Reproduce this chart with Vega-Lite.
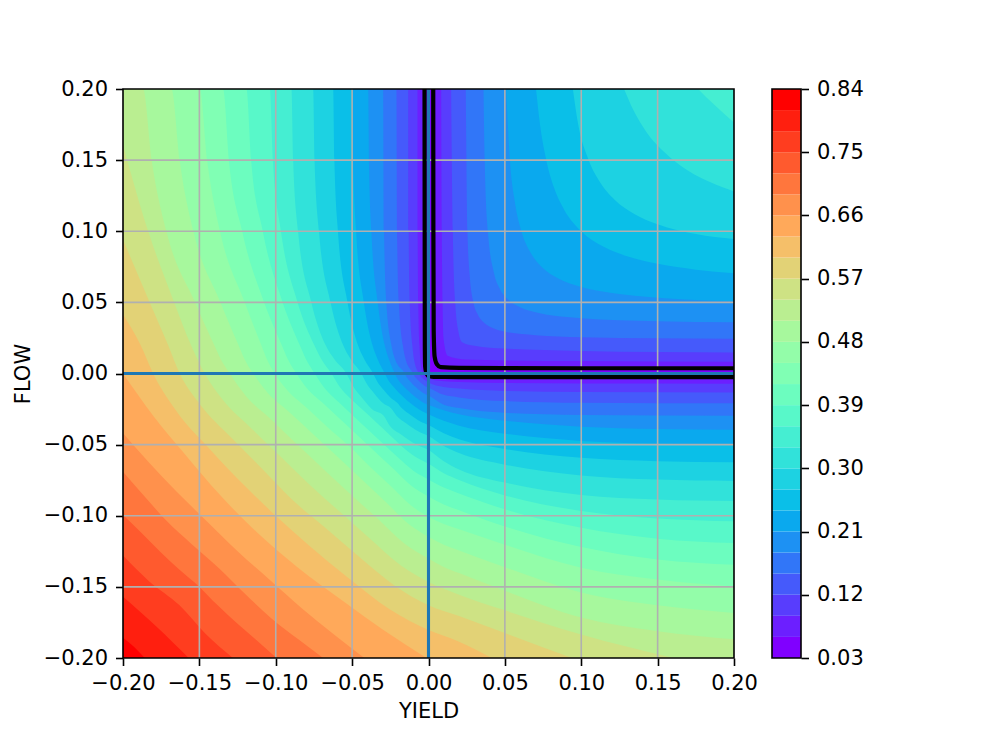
{"$schema":"https://vega.github.io/schema/vega-lite/v6.json","padding":{"left":12,"top":78,"right":5,"bottom":5},"background":"white","bounds":"flush","spacing":38,
"config":{"view":{"stroke":null},"font":"DejaVu Sans","axis":{"labelFont":"DejaVu Sans","titleFont":"DejaVu Sans","labelFontSize":21,"titleFontSize":21,"titleFontWeight":"normal","labelColor":"black","titleColor":"black","tickColor":"black","tickWidth":1.6,"tickSize":7.5,"domain":false,"grid":false,"labelOverlap":false,"labelFlush":false,"labelPadding":7}},
"datasets":{
"lower":[
{"k":0,"x":-0.2,"y":0.2},{"k":0,"x":0.2,"y":0.2},
{"k":1,"x":-0.2,"y":0.2},{"k":1,"x":-0.0026,"y":0.2},{"k":1,"x":-0.0025,"y":0.1},{"k":1,"x":-0.0024,"y":0.02},{"k":1,"x":-0.0022,"y":0.005},{"k":1,"x":-0.0016,"y":0.0012},{"k":1,"x":0,"y":-0.0017},{"k":1,"x":0.002,"y":-0.0022},{"k":1,"x":0.005,"y":-0.0024},{"k":1,"x":0.02,"y":-0.0025},{"k":1,"x":0.1,"y":-0.0025},{"k":1,"x":0.2,"y":-0.0026},
{"k":2,"x":-0.2,"y":0.2},{"k":2,"x":-0.0072,"y":0.2},{"k":2,"x":-0.0071,"y":0.1},{"k":2,"x":-0.0067,"y":0.05},{"k":2,"x":-0.0059,"y":0.02},{"k":2,"x":-0.0054,"y":0.01},{"k":2,"x":-0.0039,"y":0},{"k":2,"x":-0.0031,"y":-0.0013},{"k":2,"x":-0.0022,"y":-0.0022},{"k":2,"x":-0.0013,"y":-0.0031},{"k":2,"x":0,"y":-0.0039},{"k":2,"x":0.01,"y":-0.0054},{"k":2,"x":0.02,"y":-0.0059},{"k":2,"x":0.05,"y":-0.0067},{"k":2,"x":0.1,"y":-0.0071},{"k":2,"x":0.2,"y":-0.0072},
{"k":3,"x":-0.2,"y":0.2},{"k":3,"x":-0.0133,"y":0.2},{"k":3,"x":-0.013,"y":0.1},{"k":3,"x":-0.0123,"y":0.05},{"k":3,"x":-0.0106,"y":0.02},{"k":3,"x":-0.0095,"y":0.01},{"k":3,"x":-0.0063,"y":0},{"k":3,"x":-0.005,"y":-0.0021},{"k":3,"x":-0.0036,"y":-0.0036},{"k":3,"x":-0.0021,"y":-0.005},{"k":3,"x":0,"y":-0.0063},{"k":3,"x":0.01,"y":-0.0095},{"k":3,"x":0.02,"y":-0.0106},{"k":3,"x":0.05,"y":-0.0123},{"k":3,"x":0.1,"y":-0.013},{"k":3,"x":0.2,"y":-0.0133},
{"k":4,"x":-0.2,"y":0.2},{"k":4,"x":-0.021,"y":0.2},{"k":4,"x":-0.0206,"y":0.1},{"k":4,"x":-0.0194,"y":0.05},{"k":4,"x":-0.0168,"y":0.02},{"k":4,"x":-0.015,"y":0.01},{"k":4,"x":-0.01,"y":0},{"k":4,"x":-0.0093,"y":-0.0015},{"k":4,"x":-0.008,"y":-0.0033},{"k":4,"x":-0.0068,"y":-0.0047},{"k":4,"x":-0.0058,"y":-0.0058},{"k":4,"x":-0.0047,"y":-0.0068},{"k":4,"x":-0.0033,"y":-0.008},{"k":4,"x":-0.0015,"y":-0.0093},{"k":4,"x":0,"y":-0.01},{"k":4,"x":0.01,"y":-0.015},{"k":4,"x":0.02,"y":-0.0168},{"k":4,"x":0.05,"y":-0.0194},{"k":4,"x":0.1,"y":-0.0206},{"k":4,"x":0.2,"y":-0.021},
{"k":5,"x":-0.2,"y":0.2},{"k":5,"x":-0.0297,"y":0.2},{"k":5,"x":-0.0291,"y":0.1},{"k":5,"x":-0.0276,"y":0.05},{"k":5,"x":-0.0243,"y":0.02},{"k":5,"x":-0.0219,"y":0.01},{"k":5,"x":-0.0155,"y":0},{"k":5,"x":-0.0144,"y":-0.0023},{"k":5,"x":-0.0124,"y":-0.0051},{"k":5,"x":-0.0105,"y":-0.0073},{"k":5,"x":-0.009,"y":-0.009},{"k":5,"x":-0.0073,"y":-0.0105},{"k":5,"x":-0.0051,"y":-0.0124},{"k":5,"x":-0.0023,"y":-0.0144},{"k":5,"x":0,"y":-0.0155},{"k":5,"x":0.01,"y":-0.0219},{"k":5,"x":0.02,"y":-0.0243},{"k":5,"x":0.05,"y":-0.0276},{"k":5,"x":0.1,"y":-0.0291},{"k":5,"x":0.2,"y":-0.0297},
{"k":6,"x":-0.2,"y":0.2},{"k":6,"x":-0.0395,"y":0.2},{"k":6,"x":-0.039,"y":0.15},{"k":6,"x":-0.0374,"y":0.1},{"k":6,"x":-0.0332,"y":0.05},{"k":6,"x":-0.0287,"y":0.02},{"k":6,"x":-0.0259,"y":0.01},{"k":6,"x":-0.022,"y":0},{"k":6,"x":-0.0205,"y":-0.0033},{"k":6,"x":-0.0176,"y":-0.0073},{"k":6,"x":-0.015,"y":-0.0104},{"k":6,"x":-0.0127,"y":-0.0127},{"k":6,"x":-0.0104,"y":-0.015},{"k":6,"x":-0.0073,"y":-0.0176},{"k":6,"x":-0.0033,"y":-0.0205},{"k":6,"x":0,"y":-0.022},{"k":6,"x":0.01,"y":-0.0259},{"k":6,"x":0.02,"y":-0.0287},{"k":6,"x":0.05,"y":-0.0332},{"k":6,"x":0.1,"y":-0.0374},{"k":6,"x":0.15,"y":-0.039},{"k":6,"x":0.2,"y":-0.0395},
{"k":7,"x":-0.2,"y":0.2},{"k":7,"x":-0.05,"y":0.2},{"k":7,"x":-0.0494,"y":0.15},{"k":7,"x":-0.0474,"y":0.1},{"k":7,"x":-0.0423,"y":0.05},{"k":7,"x":-0.0367,"y":0.02},{"k":7,"x":-0.0333,"y":0.01},{"k":7,"x":-0.0286,"y":0},{"k":7,"x":-0.0266,"y":-0.0042},{"k":7,"x":-0.0229,"y":-0.0094},{"k":7,"x":-0.0194,"y":-0.0136},{"k":7,"x":-0.0165,"y":-0.0165},{"k":7,"x":-0.0136,"y":-0.0194},{"k":7,"x":-0.0094,"y":-0.0229},{"k":7,"x":-0.0042,"y":-0.0266},{"k":7,"x":0,"y":-0.0286},{"k":7,"x":0.01,"y":-0.0333},{"k":7,"x":0.02,"y":-0.0367},{"k":7,"x":0.05,"y":-0.0423},{"k":7,"x":0.1,"y":-0.0474},{"k":7,"x":0.15,"y":-0.0494},{"k":7,"x":0.2,"y":-0.05},
{"k":8,"x":-0.2,"y":0.2},{"k":8,"x":-0.0624,"y":0.2},{"k":8,"x":-0.0616,"y":0.15},{"k":8,"x":-0.0593,"y":0.1},{"k":8,"x":-0.053,"y":0.05},{"k":8,"x":-0.0462,"y":0.02},{"k":8,"x":-0.042,"y":0.01},{"k":8,"x":-0.0362,"y":0},{"k":8,"x":-0.0337,"y":-0.0054},{"k":8,"x":-0.029,"y":-0.0119},{"k":8,"x":-0.0246,"y":-0.0172},{"k":8,"x":-0.0205,"y":-0.0205},{"k":8,"x":-0.0172,"y":-0.0246},{"k":8,"x":-0.0119,"y":-0.029},{"k":8,"x":-0.0054,"y":-0.0337},{"k":8,"x":0,"y":-0.0362},{"k":8,"x":0.01,"y":-0.042},{"k":8,"x":0.02,"y":-0.0462},{"k":8,"x":0.05,"y":-0.053},{"k":8,"x":0.1,"y":-0.0593},{"k":8,"x":0.15,"y":-0.0616},{"k":8,"x":0.2,"y":-0.0624},
{"k":9,"x":-0.2,"y":0.2},{"k":9,"x":-0.0755,"y":0.2},{"k":9,"x":-0.0746,"y":0.15},{"k":9,"x":-0.0717,"y":0.1},{"k":9,"x":-0.0641,"y":0.05},{"k":9,"x":-0.0559,"y":0.02},{"k":9,"x":-0.0509,"y":0.01},{"k":9,"x":-0.0439,"y":0},{"k":9,"x":-0.0408,"y":-0.0065},{"k":9,"x":-0.0351,"y":-0.0145},{"k":9,"x":-0.0299,"y":-0.0208},{"k":9,"x":-0.0245,"y":-0.0245},{"k":9,"x":-0.0208,"y":-0.0299},{"k":9,"x":-0.0145,"y":-0.0351},{"k":9,"x":-0.0065,"y":-0.0408},{"k":9,"x":0,"y":-0.0439},{"k":9,"x":0.01,"y":-0.0509},{"k":9,"x":0.02,"y":-0.0559},{"k":9,"x":0.05,"y":-0.0641},{"k":9,"x":0.1,"y":-0.0717},{"k":9,"x":0.15,"y":-0.0746},{"k":9,"x":0.2,"y":-0.0755},
{"k":10,"x":-0.2,"y":0.2},{"k":10,"x":-0.0897,"y":0.2},{"k":10,"x":-0.0886,"y":0.15},{"k":10,"x":-0.0854,"y":0.1},{"k":10,"x":-0.0767,"y":0.05},{"k":10,"x":-0.0674,"y":0.02},{"k":10,"x":-0.0616,"y":0.01},{"k":10,"x":-0.0537,"y":0},{"k":10,"x":-0.0499,"y":-0.0079},{"k":10,"x":-0.043,"y":-0.0177},{"k":10,"x":-0.0365,"y":-0.0255},{"k":10,"x":-0.0295,"y":-0.0295},{"k":10,"x":-0.0255,"y":-0.0365},{"k":10,"x":-0.0177,"y":-0.043},{"k":10,"x":-0.0079,"y":-0.0499},{"k":10,"x":0,"y":-0.0537},{"k":10,"x":0.01,"y":-0.0616},{"k":10,"x":0.02,"y":-0.0674},{"k":10,"x":0.05,"y":-0.0767},{"k":10,"x":0.1,"y":-0.0854},{"k":10,"x":0.15,"y":-0.0886},{"k":10,"x":0.2,"y":-0.0897},
{"k":11,"x":-0.2,"y":0.2},{"k":11,"x":-0.1039,"y":0.2},{"k":11,"x":-0.1019,"y":0.15},{"k":11,"x":-0.0966,"y":0.1},{"k":11,"x":-0.0857,"y":0.05},{"k":11,"x":-0.0748,"y":0.02},{"k":11,"x":-0.0701,"y":0.01},{"k":11,"x":-0.0635,"y":0},{"k":11,"x":-0.0584,"y":-0.0089},{"k":11,"x":-0.0502,"y":-0.0184},{"k":11,"x":-0.0422,"y":-0.0264},{"k":11,"x":-0.0343,"y":-0.0343},{"k":11,"x":-0.0264,"y":-0.0422},{"k":11,"x":-0.0184,"y":-0.0502},{"k":11,"x":-0.0089,"y":-0.0584},{"k":11,"x":0,"y":-0.0635},{"k":11,"x":0.01,"y":-0.0701},{"k":11,"x":0.02,"y":-0.0748},{"k":11,"x":0.05,"y":-0.0857},{"k":11,"x":0.1,"y":-0.0966},{"k":11,"x":0.15,"y":-0.1019},{"k":11,"x":0.2,"y":-0.1039},
{"k":12,"x":-0.2,"y":0.2},{"k":12,"x":-0.1192,"y":0.2},{"k":12,"x":-0.1161,"y":0.15},{"k":12,"x":-0.1085,"y":0.1},{"k":12,"x":-0.0955,"y":0.05},{"k":12,"x":-0.0843,"y":0.02},{"k":12,"x":-0.0802,"y":0.01},{"k":12,"x":-0.0745,"y":0},{"k":12,"x":-0.0685,"y":-0.0097},{"k":12,"x":-0.0589,"y":-0.0201},{"k":12,"x":-0.0492,"y":-0.0298},{"k":12,"x":-0.0395,"y":-0.0395},{"k":12,"x":-0.0298,"y":-0.0492},{"k":12,"x":-0.0201,"y":-0.0589},{"k":12,"x":-0.0097,"y":-0.0685},{"k":12,"x":0,"y":-0.0745},{"k":12,"x":0.01,"y":-0.0802},{"k":12,"x":0.02,"y":-0.0843},{"k":12,"x":0.05,"y":-0.0955},{"k":12,"x":0.1,"y":-0.1085},{"k":12,"x":0.15,"y":-0.1161},{"k":12,"x":0.2,"y":-0.1192},
{"k":13,"x":-0.2,"y":0.2},{"k":13,"x":-0.1345,"y":0.2},{"k":13,"x":-0.1307,"y":0.15},{"k":13,"x":-0.122,"y":0.1},{"k":13,"x":-0.1076,"y":0.05},{"k":13,"x":-0.0961,"y":0.02},{"k":13,"x":-0.0921,"y":0.01},{"k":13,"x":-0.0865,"y":0},{"k":13,"x":-0.0796,"y":-0.0104},{"k":13,"x":-0.0683,"y":-0.0216},{"k":13,"x":-0.0567,"y":-0.0333},{"k":13,"x":-0.045,"y":-0.045},{"k":13,"x":-0.0333,"y":-0.0567},{"k":13,"x":-0.0216,"y":-0.0683},{"k":13,"x":-0.0104,"y":-0.0796},{"k":13,"x":0,"y":-0.0865},{"k":13,"x":0.01,"y":-0.0921},{"k":13,"x":0.02,"y":-0.0961},{"k":13,"x":0.05,"y":-0.1076},{"k":13,"x":0.1,"y":-0.122},{"k":13,"x":0.15,"y":-0.1307},{"k":13,"x":0.2,"y":-0.1345},
{"k":14,"x":-0.2,"y":0.2},{"k":14,"x":-0.1498,"y":0.2},{"k":14,"x":-0.1449,"y":0.15},{"k":14,"x":-0.1365,"y":0.1},{"k":14,"x":-0.1203,"y":0.05},{"k":14,"x":-0.1095,"y":0.02},{"k":14,"x":-0.1058,"y":0.01},{"k":14,"x":-0.1007,"y":0},{"k":14,"x":-0.0926,"y":-0.0116},{"k":14,"x":-0.0796,"y":-0.0242},{"k":14,"x":-0.0655,"y":-0.0383},{"k":14,"x":-0.0515,"y":-0.0515},{"k":14,"x":-0.0383,"y":-0.0655},{"k":14,"x":-0.0242,"y":-0.0796},{"k":14,"x":-0.0116,"y":-0.0926},{"k":14,"x":0,"y":-0.1007},{"k":14,"x":0.01,"y":-0.1058},{"k":14,"x":0.02,"y":-0.1095},{"k":14,"x":0.05,"y":-0.1203},{"k":14,"x":0.1,"y":-0.1365},{"k":14,"x":0.15,"y":-0.1449},{"k":14,"x":0.2,"y":-0.1498},
{"k":15,"x":-0.2,"y":0.2},{"k":15,"x":-0.1683,"y":0.2},{"k":15,"x":-0.1629,"y":0.15},{"k":15,"x":-0.1539,"y":0.1},{"k":15,"x":-0.1362,"y":0.05},{"k":15,"x":-0.1244,"y":0.02},{"k":15,"x":-0.1204,"y":0.01},{"k":15,"x":-0.1148,"y":0},{"k":15,"x":-0.1056,"y":-0.0132},{"k":15,"x":-0.0907,"y":-0.0276},{"k":15,"x":-0.0746,"y":-0.0436},{"k":15,"x":-0.059,"y":-0.059},{"k":15,"x":-0.0436,"y":-0.0746},{"k":15,"x":-0.0276,"y":-0.0907},{"k":15,"x":-0.0132,"y":-0.1056},{"k":15,"x":0,"y":-0.1148},{"k":15,"x":0.01,"y":-0.1204},{"k":15,"x":0.02,"y":-0.1244},{"k":15,"x":0.05,"y":-0.1362},{"k":15,"x":0.1,"y":-0.1539},{"k":15,"x":0.15,"y":-0.1629},{"k":15,"x":0.2,"y":-0.1683},
{"k":16,"x":-0.2,"y":0.2},{"k":16,"x":-0.1869,"y":0.2},{"k":16,"x":-0.1812,"y":0.15},{"k":16,"x":-0.1716,"y":0.1},{"k":16,"x":-0.1528,"y":0.05},{"k":16,"x":-0.1403,"y":0.02},{"k":16,"x":-0.136,"y":0.01},{"k":16,"x":-0.1301,"y":0},{"k":16,"x":-0.1197,"y":-0.0156},{"k":16,"x":-0.1028,"y":-0.0325},{"k":16,"x":-0.0852,"y":-0.0507},{"k":16,"x":-0.068,"y":-0.068},{"k":16,"x":-0.0507,"y":-0.0852},{"k":16,"x":-0.0325,"y":-0.1028},{"k":16,"x":-0.0156,"y":-0.1197},{"k":16,"x":0,"y":-0.1301},{"k":16,"x":0.01,"y":-0.136},{"k":16,"x":0.02,"y":-0.1403},{"k":16,"x":0.05,"y":-0.1528},{"k":16,"x":0.1,"y":-0.1716},{"k":16,"x":0.15,"y":-0.1812},{"k":16,"x":0.2,"y":-0.1869},
{"k":17,"x":-0.2,"y":0.1605},{"k":17,"x":-0.1835,"y":0.1},{"k":17,"x":-0.1665,"y":0.05},{"k":17,"x":-0.1555,"y":0.02},{"k":17,"x":-0.1465,"y":0},{"k":17,"x":-0.1348,"y":-0.0183},{"k":17,"x":-0.1157,"y":-0.0388},{"k":17,"x":-0.0967,"y":-0.0586},{"k":17,"x":-0.078,"y":-0.078},{"k":17,"x":-0.0586,"y":-0.0967},{"k":17,"x":-0.0388,"y":-0.1157},{"k":17,"x":-0.0183,"y":-0.1348},{"k":17,"x":0,"y":-0.1465},{"k":17,"x":0.02,"y":-0.1555},{"k":17,"x":0.05,"y":-0.1665},{"k":17,"x":0.1,"y":-0.1835},{"k":17,"x":0.1605,"y":-0.2},
{"k":18,"x":-0.2,"y":0.094},{"k":18,"x":-0.1825,"y":0.05},{"k":18,"x":-0.1705,"y":0.02},{"k":18,"x":-0.1629,"y":0},{"k":18,"x":-0.1499,"y":-0.0212},{"k":18,"x":-0.1287,"y":-0.0456},{"k":18,"x":-0.1091,"y":-0.0668},{"k":18,"x":-0.089,"y":-0.089},{"k":18,"x":-0.0668,"y":-0.1091},{"k":18,"x":-0.0456,"y":-0.1287},{"k":18,"x":-0.0212,"y":-0.1499},{"k":18,"x":0,"y":-0.1629},{"k":18,"x":0.02,"y":-0.1705},{"k":18,"x":0.05,"y":-0.1825},{"k":18,"x":0.094,"y":-0.2},
{"k":19,"x":-0.2,"y":0.0415},{"k":19,"x":-0.1885,"y":0.02},{"k":19,"x":-0.1803,"y":0},{"k":19,"x":-0.1659,"y":-0.0252},{"k":19,"x":-0.1424,"y":-0.0541},{"k":19,"x":-0.1208,"y":-0.0784},{"k":19,"x":-0.1,"y":-0.1},{"k":19,"x":-0.0784,"y":-0.1208},{"k":19,"x":-0.0541,"y":-0.1424},{"k":19,"x":-0.0252,"y":-0.1659},{"k":19,"x":0,"y":-0.1803},{"k":19,"x":0.02,"y":-0.1885},{"k":19,"x":0.0415,"y":-0.2},
{"k":20,"x":-0.2,"y":0},{"k":20,"x":-0.18,"y":-0.03},{"k":20,"x":-0.16,"y":-0.056},{"k":20,"x":-0.136,"y":-0.086},{"k":20,"x":-0.112,"y":-0.112},{"k":20,"x":-0.086,"y":-0.136},{"k":20,"x":-0.056,"y":-0.16},{"k":20,"x":-0.03,"y":-0.18},{"k":20,"x":-0.0013,"y":-0.2},
{"k":21,"x":-0.2,"y":-0.042},{"k":21,"x":-0.183,"y":-0.0625},{"k":21,"x":-0.165,"y":-0.083},{"k":21,"x":-0.145,"y":-0.104},{"k":21,"x":-0.125,"y":-0.125},{"k":21,"x":-0.104,"y":-0.145},{"k":21,"x":-0.083,"y":-0.165},{"k":21,"x":-0.0625,"y":-0.183},{"k":21,"x":-0.042,"y":-0.2},
{"k":22,"x":-0.2,"y":-0.069},{"k":22,"x":-0.187,"y":-0.085},{"k":22,"x":-0.172,"y":-0.103},{"k":22,"x":-0.155,"y":-0.12},{"k":22,"x":-0.137,"y":-0.137},{"k":22,"x":-0.12,"y":-0.155},{"k":22,"x":-0.103,"y":-0.172},{"k":22,"x":-0.085,"y":-0.187},{"k":22,"x":-0.069,"y":-0.2},
{"k":23,"x":-0.2,"y":-0.0995},{"k":23,"x":-0.188,"y":-0.112},{"k":23,"x":-0.176,"y":-0.125},{"k":23,"x":-0.163,"y":-0.138},{"k":23,"x":-0.15,"y":-0.15},{"k":23,"x":-0.138,"y":-0.163},{"k":23,"x":-0.125,"y":-0.176},{"k":23,"x":-0.112,"y":-0.188},{"k":23,"x":-0.0995,"y":-0.2},
{"k":24,"x":-0.2,"y":-0.128},{"k":24,"x":-0.183,"y":-0.146},{"k":24,"x":-0.163,"y":-0.163},{"k":24,"x":-0.146,"y":-0.183},{"k":24,"x":-0.128,"y":-0.2},
{"k":25,"x":-0.2,"y":-0.157},{"k":25,"x":-0.178,"y":-0.178},{"k":25,"x":-0.157,"y":-0.2},
{"k":26,"x":-0.2,"y":-0.1858},{"k":26,"x":-0.1925,"y":-0.1925},{"k":26,"x":-0.1858,"y":-0.2}
],
"upper":[
{"k":1,"x":0.0031,"y":0.2},{"k":1,"x":0.0032,"y":0.1},{"k":1,"x":0.0034,"y":0.03},{"k":1,"x":0.004,"y":0.012},{"k":1,"x":0.0055,"y":0.0065},{"k":1,"x":0.008,"y":0.0045},{"k":1,"x":0.02,"y":0.0039},{"k":1,"x":0.1,"y":0.0037},{"k":1,"x":0.2,"y":0.0037},
{"k":2,"x":0.0083,"y":0.2},{"k":2,"x":0.0087,"y":0.1},{"k":2,"x":0.0092,"y":0.05},{"k":2,"x":0.0098,"y":0.025},{"k":2,"x":0.0125,"y":0.0125},{"k":2,"x":0.025,"y":0.0098},{"k":2,"x":0.05,"y":0.0092},{"k":2,"x":0.1,"y":0.0087},{"k":2,"x":0.2,"y":0.0083},
{"k":3,"x":0.0148,"y":0.2},{"k":3,"x":0.0159,"y":0.1},{"k":3,"x":0.0175,"y":0.05},{"k":3,"x":0.0195,"y":0.03},{"k":3,"x":0.022,"y":0.022},{"k":3,"x":0.03,"y":0.0195},{"k":3,"x":0.05,"y":0.0175},{"k":3,"x":0.1,"y":0.0159},{"k":3,"x":0.2,"y":0.0148},
{"k":4,"x":0.0244,"y":0.2},{"k":4,"x":0.0255,"y":0.1},{"k":4,"x":0.0269,"y":0.07},{"k":4,"x":0.0294,"y":0.05},{"k":4,"x":0.032,"y":0.042},{"k":4,"x":0.036,"y":0.036},{"k":4,"x":0.042,"y":0.032},{"k":4,"x":0.05,"y":0.0294},{"k":4,"x":0.07,"y":0.0269},{"k":4,"x":0.1,"y":0.0255},{"k":4,"x":0.2,"y":0.0244},
{"k":5,"x":0.036,"y":0.2},{"k":5,"x":0.0368,"y":0.15},{"k":5,"x":0.0389,"y":0.1},{"k":5,"x":0.043,"y":0.07},{"k":5,"x":0.0465,"y":0.06},{"k":5,"x":0.052,"y":0.052},{"k":5,"x":0.06,"y":0.0465},{"k":5,"x":0.07,"y":0.043},{"k":5,"x":0.1,"y":0.0389},{"k":5,"x":0.15,"y":0.0368},{"k":5,"x":0.2,"y":0.036},
{"k":6,"x":0.0508,"y":0.2},{"k":6,"x":0.0533,"y":0.15},{"k":6,"x":0.0566,"y":0.12},{"k":6,"x":0.0608,"y":0.1},{"k":6,"x":0.0668,"y":0.085},{"k":6,"x":0.0745,"y":0.0745},{"k":6,"x":0.085,"y":0.0668},{"k":6,"x":0.1,"y":0.0608},{"k":6,"x":0.12,"y":0.0566},{"k":6,"x":0.15,"y":0.0533},{"k":6,"x":0.2,"y":0.0508},
{"k":7,"x":0.0704,"y":0.2},{"k":7,"x":0.073,"y":0.175},{"k":7,"x":0.0771,"y":0.15},{"k":7,"x":0.0824,"y":0.13},{"k":7,"x":0.0889,"y":0.115},{"k":7,"x":0.1,"y":0.1},{"k":7,"x":0.115,"y":0.0889},{"k":7,"x":0.13,"y":0.0824},{"k":7,"x":0.15,"y":0.0771},{"k":7,"x":0.175,"y":0.073},{"k":7,"x":0.2,"y":0.0704},
{"k":8,"x":0.0945,"y":0.2},{"k":8,"x":0.098,"y":0.175},{"k":8,"x":0.1049,"y":0.15},{"k":8,"x":0.112,"y":0.135},{"k":8,"x":0.122,"y":0.122},{"k":8,"x":0.135,"y":0.112},{"k":8,"x":0.15,"y":0.1049},{"k":8,"x":0.175,"y":0.098},{"k":8,"x":0.2,"y":0.0945},
{"k":9,"x":0.128,"y":0.2},{"k":9,"x":0.1342,"y":0.185},{"k":9,"x":0.1425,"y":0.17},{"k":9,"x":0.155,"y":0.155},{"k":9,"x":0.17,"y":0.1425},{"k":9,"x":0.185,"y":0.1342},{"k":9,"x":0.2,"y":0.128},
{"k":10,"x":0.1765,"y":0.2},{"k":10,"x":0.182,"y":0.194},{"k":10,"x":0.188,"y":0.188},{"k":10,"x":0.194,"y":0.182},{"k":10,"x":0.2,"y":0.1765}
],
"black":[
{"s":"a","x":-0.0026,"y":0.2},{"s":"a","x":-0.0025,"y":0.1},{"s":"a","x":-0.0024,"y":0.02},{"s":"a","x":-0.0022,"y":0.005},{"s":"a","x":-0.0016,"y":0.0012},{"s":"a","x":0,"y":-0.0017},{"s":"a","x":0.002,"y":-0.0022},{"s":"a","x":0.005,"y":-0.0024},{"s":"a","x":0.02,"y":-0.0025},{"s":"a","x":0.1,"y":-0.0025},{"s":"a","x":0.2,"y":-0.0026},
{"s":"b","x":0.0031,"y":0.2},{"s":"b","x":0.0032,"y":0.1},{"s":"b","x":0.0034,"y":0.03},{"s":"b","x":0.004,"y":0.012},{"s":"b","x":0.0055,"y":0.0065},{"s":"b","x":0.008,"y":0.0045},{"s":"b","x":0.02,"y":0.0039},{"s":"b","x":0.1,"y":0.0037},{"s":"b","x":0.2,"y":0.0037}
],
"bands":[
{"k":0,"lo":0.03,"hi":0.06},{"k":1,"lo":0.06,"hi":0.09},{"k":2,"lo":0.09,"hi":0.12},{"k":3,"lo":0.12,"hi":0.15},{"k":4,"lo":0.15,"hi":0.18},{"k":5,"lo":0.18,"hi":0.21},{"k":6,"lo":0.21,"hi":0.24},{"k":7,"lo":0.24,"hi":0.27},{"k":8,"lo":0.27,"hi":0.3},{"k":9,"lo":0.3,"hi":0.33},{"k":10,"lo":0.33,"hi":0.36},{"k":11,"lo":0.36,"hi":0.39},{"k":12,"lo":0.39,"hi":0.42},{"k":13,"lo":0.42,"hi":0.45},{"k":14,"lo":0.45,"hi":0.48},{"k":15,"lo":0.48,"hi":0.51},{"k":16,"lo":0.51,"hi":0.54},{"k":17,"lo":0.54,"hi":0.57},{"k":18,"lo":0.57,"hi":0.6},{"k":19,"lo":0.6,"hi":0.63},{"k":20,"lo":0.63,"hi":0.66},{"k":21,"lo":0.66,"hi":0.69},{"k":22,"lo":0.69,"hi":0.72},{"k":23,"lo":0.72,"hi":0.75},{"k":24,"lo":0.75,"hi":0.78},{"k":25,"lo":0.78,"hi":0.81},{"k":26,"lo":0.81,"hi":0.84}
]},
"hconcat":[
{"width":611,"height":569,
"encoding":{
"x":{"field":"x","type":"quantitative","stack":null,"scale":{"domain":[-0.2,0.2],"nice":false,"zero":false},"axis":{"title":"YIELD","values":[-0.2,-0.15,-0.1,-0.05,0,0.05,0.1,0.15,0.2],"format":".2f","titlePadding":7}},
"y":{"field":"y","type":"quantitative","stack":null,"scale":{"domain":[-0.2,0.2],"nice":false,"zero":false},"axis":{"title":"FLOW","values":[-0.2,-0.15,-0.1,-0.05,0,0.05,0.1,0.15,0.2],"format":".2f","titlePadding":10,"labelPadding":8}}
},
"layer":[
{"data":{"name":"lower"},"mark":{"type":"area","orient":"vertical","interpolate":"monotone"},"encoding":{"y2":{"datum":-0.2},"color":{"field":"k","type":"ordinal","legend":null,"scale":{"domain":[0,1,2,3,4,5,6,7,8,9,10,11,12,13,14,15,16,17,18,19,20,21,22,23,24,25,26],"range":["#8000ff","#6c1fff","#583dfd","#455afb","#3176f8","#1d91f3","#0aa9ee","#0abfe8","#1dd2e2","#31e2da","#45eed2","#58f8c9","#6cfdbf","#80ffb4","#93fda9","#a7f89d","#baee91","#cee284","#e2d276","#f5bf69","#ffa95a","#ff914c","#ff763d","#ff5a2e","#ff3d1f","#ff1f0f","#ff0000"]}}}},
{"data":{"name":"upper"},"mark":{"type":"area","orient":"vertical","interpolate":"monotone"},"encoding":{"y2":{"datum":0.2},"color":{"field":"k","type":"ordinal","legend":null}}},
{"data":{"values":[{"g":-0.15},{"g":-0.1},{"g":-0.05},{"g":0},{"g":0.05},{"g":0.1},{"g":0.15}]},"mark":{"type":"rule","color":"#b0b0b0","strokeWidth":1.6},"encoding":{"x":{"field":"g","type":"quantitative"},"y":{"value":0},"y2":{"value":569}}},
{"data":{"values":[{"g":-0.15},{"g":-0.1},{"g":-0.05},{"g":0},{"g":0.05},{"g":0.1},{"g":0.15}]},"mark":{"type":"rule","color":"#b0b0b0","strokeWidth":1.6},"encoding":{"y":{"field":"g","type":"quantitative"},"x":{"value":0},"x2":{"value":611}}},
{"data":{"name":"black"},"mark":{"type":"line","color":"black","strokeWidth":4.2,"interpolate":"monotone"},"encoding":{"detail":{"field":"s"}}},
{"data":{"values":[{"x":-0.2,"x2":0.2,"y":0,"y2":0},{"x":0,"x2":0,"y":-0.2,"y2":0.2}]},"mark":{"type":"rule","color":"#1f77b4","strokeWidth":3.1},"encoding":{"x2":{"field":"x2"},"y2":{"field":"y2"}}},
{"data":{"values":[{"x":-0.2,"x2":0.2,"y":-0.2,"y2":0.2}]},"mark":{"type":"rect","filled":false,"stroke":"black","strokeWidth":1.6},"encoding":{"x2":{"field":"x2"},"y2":{"field":"y2"}}}
]},
{"width":29,"height":569,"data":{"name":"bands"},
"layer":[
{"mark":{"type":"rect"},"encoding":{
"y":{"field":"lo","type":"quantitative","scale":{"domain":[0.03,0.84],"nice":false,"zero":false},"axis":{"title":null,"orient":"right","values":[0.03,0.12,0.21,0.3,0.39,0.48,0.57,0.66,0.75,0.84],"format":".2f","labelPadding":8}},
"y2":{"field":"hi"},
"color":{"field":"k","type":"ordinal","legend":null,"scale":{"domain":[0,1,2,3,4,5,6,7,8,9,10,11,12,13,14,15,16,17,18,19,20,21,22,23,24,25,26],"range":["#8000ff","#6c1fff","#583dfd","#455afb","#3176f8","#1d91f3","#0aa9ee","#0abfe8","#1dd2e2","#31e2da","#45eed2","#58f8c9","#6cfdbf","#80ffb4","#93fda9","#a7f89d","#baee91","#cee284","#e2d276","#f5bf69","#ffa95a","#ff914c","#ff763d","#ff5a2e","#ff3d1f","#ff1f0f","#ff0000"]}}}},
{"data":{"values":[{"lo":0.03,"hi":0.84}]},"mark":{"type":"rect","filled":false,"stroke":"black","strokeWidth":1.6},"encoding":{"y":{"field":"lo","type":"quantitative"},"y2":{"field":"hi"}}}
]}
]}
